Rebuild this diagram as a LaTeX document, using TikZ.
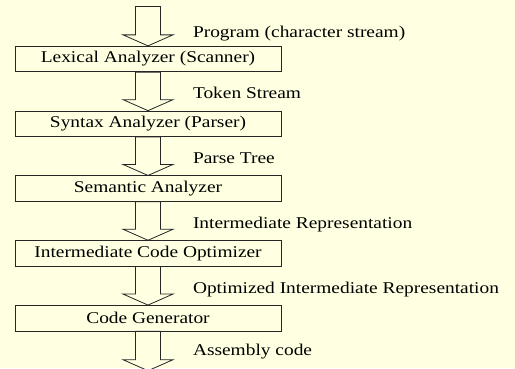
\documentclass[tikz,border=0pt]{standalone}
\usepackage{fontspec}
\setmainfont{Liberation Serif}[FakeStretch=1.18]
\usepackage{xcolor}
\usetikzlibrary{positioning, calc}
\definecolor{cream}{RGB}{255,255,225}

\begin{document}
\begin{tikzpicture}[
    x=1bp, y=1bp,
    node distance=38.5bp,
    font=\fontsize{16.5}{19}\selectfont,
    box/.style={rectangle, draw=black!85, line width=0.8bp, minimum width=266bp, minimum height=25.5bp, inner sep=0pt},
    lbl/.style={anchor=base west, inner sep=0pt},
    hollow/.style={draw=black!85, line width=0.8bp, to path={
        ($(\tikztostart)+(-12.5,0)$) -- ($(\tikztotarget)+(-12.5,11)$) -- ($(\tikztotarget)+(-25,11)$) -- (\tikztotarget)
        -- ($(\tikztotarget)+(25,11)$) -- ($(\tikztotarget)+(12.5,11)$) -- ($(\tikztostart)+(12.5,0)$) -- cycle}}
]

% background
\fill[cream] (0,0) rectangle (515,368);
\useasboundingbox (0,0) rectangle (515,368);

% Phases
\node[box] (lex) at (148,309) {Lexical Analyzer (Scanner)};
\node[box, below=of lex] (syn) {Syntax Analyzer (Parser)};
\node[box, below=of syn] (sem) {Semantic Analyzer};
\node[box, below=of sem] (opt) {Intermediate Code Optimizer};
\node[box, below=of opt] (gen) {Code Generator};

% Input and output
\coordinate (src) at ([yshift=39.5]lex.north);
\coordinate (asm) at ([yshift=-39.5]gen.south);

% Arrows
\draw[hollow] (src) to (lex.north);
\draw[hollow] (lex.south) to (syn.north);
\draw[hollow] (syn.south) to (sem.north);
\draw[hollow] (sem.south) to (opt.north);
\draw[hollow] (opt.south) to (gen.north);
\draw[hollow] (gen.south) to (asm);

% Labels
\node[lbl] (prog) at ([xshift=45, yshift=8]lex.north) {Program (character stream)};
\node[lbl] (tok) at ([xshift=45, yshift=12]syn.north) {Token Stream};
\node[lbl] (tree) at ([xshift=45, yshift=12]sem.north) {Parse Tree};
\node[lbl] (ir) at ([xshift=45, yshift=12]opt.north) {Intermediate Representation};
\node[lbl] (oir) at ([xshift=45, yshift=12]gen.north) {Optimized Intermediate Representation};
\node[lbl] (code) at ([xshift=45, yshift=15]asm) {Assembly code};

\end{tikzpicture}
\end{document}
